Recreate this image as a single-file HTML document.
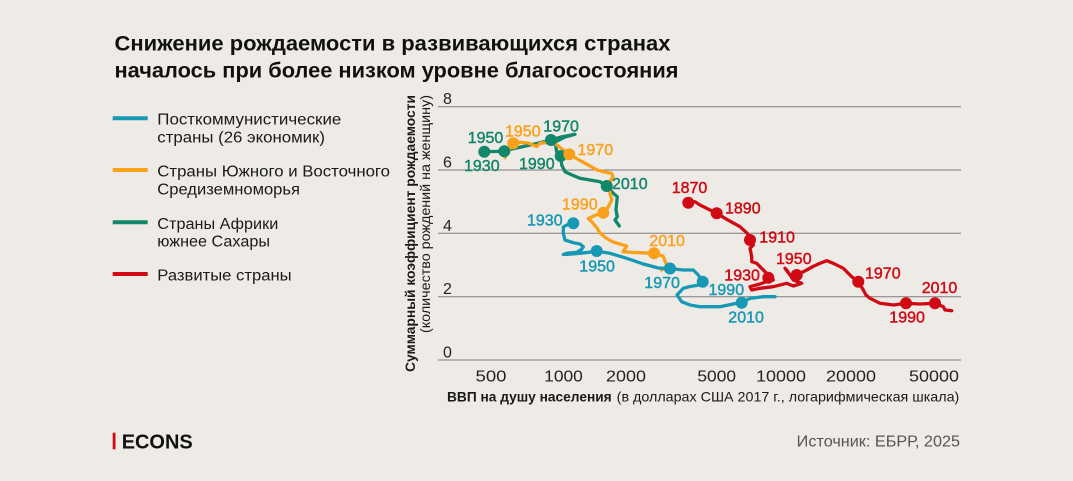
<!DOCTYPE html>
<html>
<head>
<meta charset="utf-8">
<style>
html,body{margin:0;padding:0;background:#eeebe6;}
svg{display:block;}
text{font-family:"Liberation Sans","Noto Sans CJK SC",sans-serif;}
</style>
</head>
<body>
<svg width="1073" height="481" viewBox="0 0 1073 481" xmlns="http://www.w3.org/2000/svg">
<rect x="0" y="0" width="1073" height="481" fill="#eeebe6"/>

<!-- Title -->
<text x="114.5" y="50.5" font-size="21.5" font-weight="bold" fill="#111" textLength="556" lengthAdjust="spacingAndGlyphs">Снижение рождаемости в развивающихся странах</text>
<text x="114.5" y="77.5" font-size="21.5" font-weight="bold" fill="#111" textLength="564" lengthAdjust="spacingAndGlyphs">началось при более низком уровне благосостояния</text>

<!-- Legend -->
<g font-size="15.5" fill="#1a1a1a">
<line x1="112.7" y1="118.3" x2="147.7" y2="118.3" stroke="#1798b5" stroke-width="4"/>
<text x="157.3" y="124.5" textLength="184" lengthAdjust="spacingAndGlyphs">Посткоммунистические</text>
<text x="157.3" y="142.7" textLength="167.7" lengthAdjust="spacingAndGlyphs">страны (26 экономик)</text>
<line x1="112.7" y1="170" x2="147.7" y2="170" stroke="#f9a11b" stroke-width="4"/>
<text x="157.3" y="176.7" textLength="232.7" lengthAdjust="spacingAndGlyphs">Страны Южного и Восточного</text>
<text x="157.3" y="194.5" textLength="142.7" lengthAdjust="spacingAndGlyphs">Средиземноморья</text>
<line x1="112.7" y1="222.3" x2="147.7" y2="222.3" stroke="#12876a" stroke-width="4"/>
<text x="157.3" y="229" textLength="121" lengthAdjust="spacingAndGlyphs">Страны Африки</text>
<text x="157.3" y="246.7" textLength="112.7" lengthAdjust="spacingAndGlyphs">южнее Сахары</text>
<line x1="112.7" y1="274" x2="147.7" y2="274" stroke="#cf0a14" stroke-width="4"/>
<text x="157.3" y="280.5" textLength="134.3" lengthAdjust="spacingAndGlyphs">Развитые страны</text>
</g>

<!-- Gridlines -->
<g stroke="#7d7d7d" stroke-width="1">
<line x1="438" y1="106.7" x2="961" y2="106.7"/>
<line x1="438" y1="170" x2="961" y2="170"/>
<line x1="438" y1="233.3" x2="961" y2="233.3"/>
<line x1="438" y1="296.7" x2="961" y2="296.7"/>
<line x1="438" y1="360" x2="961" y2="360"/>
</g>

<!-- Y tick labels -->
<g font-size="16" fill="#222">
<text x="443" y="104">8</text>
<text x="443" y="167.5">6</text>
<text x="443" y="230.8">4</text>
<text x="443" y="294">2</text>
<text x="443" y="357.3">0</text>
</g>

<!-- Y axis title -->
<text transform="translate(415,95) rotate(-90)" text-anchor="end" font-size="13.5" font-weight="bold" fill="#1a1a1a" textLength="277" lengthAdjust="spacingAndGlyphs">Суммарный коэффициент рождаемости</text>
<text transform="translate(430,95) rotate(-90)" text-anchor="end" font-size="13.5" fill="#1a1a1a" textLength="238" lengthAdjust="spacingAndGlyphs">(количество рождений на женщину)</text>

<!-- X tick labels -->
<g font-size="16" fill="#222" text-anchor="middle">
<text x="491" y="381.5" textLength="31" lengthAdjust="spacingAndGlyphs">500</text>
<text x="563.5" y="381.5" textLength="38.7" lengthAdjust="spacingAndGlyphs">1000</text>
<text x="626" y="381.5" textLength="40" lengthAdjust="spacingAndGlyphs">2000</text>
<text x="716.7" y="381.5" textLength="38.7" lengthAdjust="spacingAndGlyphs">5000</text>
<text x="781" y="381.5" textLength="50" lengthAdjust="spacingAndGlyphs">10000</text>
<text x="851" y="381.5" textLength="50" lengthAdjust="spacingAndGlyphs">20000</text>
<text x="934" y="381.5" textLength="50" lengthAdjust="spacingAndGlyphs">50000</text>
</g>

<!-- X axis title -->
<text x="447" y="401.5" font-size="14" font-weight="bold" fill="#1a1a1a" textLength="164.7" lengthAdjust="spacingAndGlyphs">ВВП на душу населения</text>
<text x="616.7" y="401.5" font-size="14" fill="#1a1a1a" textLength="342.6" lengthAdjust="spacingAndGlyphs">(в долларах США 2017 г., логарифмическая шкала)</text>

<!-- Series -->
<g fill="none" stroke-width="3.3" stroke-linejoin="round" stroke-linecap="round">
<path stroke="#12876a" d="M484.3,151.7 L494,151.5 L504.3,151.3 L512,149 L520,147.3 L530,145 L540,142.7 L551,140 L560,137.3 L575,134.3 L565,137 L555,142 L556.7,151.7 L560.7,156 L561.7,165 L565,171.7 L572,175 L580,178.3 L590,180 L600,181.7 L606.7,186 L613.3,193.3 L617.3,196.7 L616,210 L617.3,216.7 L615,220 L619.3,226"/>
<path stroke="#f9a11b" d="M505,157.5 L509,150 L513.3,143.3 L520,142.3 L528,143 L536.7,146.5 L540,143.3 L553,141.7 L557,145 L563.3,150 L569.3,154.3 L580,160.5 L590,166 L597,170 L605,172 L611.7,173.5 L613,176.7 L608.3,184 L610,193 L611.7,200 L608.3,207 L603.3,212.7 L596,215 L588.3,218.5 L592,222 L597,228 L600,233 L606,238 L613,242 L626.7,246 L623,251.7 L633,252.5 L640,252.7 L653,253.3 L663,256 L666,263.3 L667,268 L661.7,270"/>
<path stroke="#1798b5" d="M573.3,223.3 L566.7,225 L563.3,227 L563.3,233.3 L565,240 L573.3,242.7 L580,244 L583.3,246.7 L581.7,249.3 L576.7,252.3 L566.7,253.3 L563.3,254.5 L567,254.3 L580,253.3 L596.7,251.3 L610,253.3 L626.7,258.3 L643.3,264 L658.3,268 L670,268.5 L683.3,270 L693.3,270 L698.3,275 L702.7,281.7 L700,285 L690,286.5 L683.3,288.3 L677,295 L681.7,301.7 L690,305 L700,306.7 L720,306.7 L736.7,303.3 L741.7,302.7 L750,298.3 L763.3,296.7 L775,296.7"/>
<path stroke="#cf0a14" d="M688.3,202.7 L695,201.7 L700,205 L708,209 L716.7,213.3 L726.7,219.3 L740,226.7 L747.3,233.3 L750,240 L753.3,245 L750,248.3 L751.7,256.7 L751.7,261.7 L756.7,263.3 L760,266.7 L765,271.7 L770,276.7 L773.3,280 L768.3,281 L760,284 L750,286.7 L751.7,290 L760,288.3 L773.3,286.7 L786.7,283.3 L793.3,286 L801.7,283.3 L793.3,280 L786.7,270 L785,268.3 L790,275 L796.7,275 L806.7,270 L813,266.5 L820,263.3 L826.7,260.7 L833.3,263.3 L843.3,268.3 L851.7,276.7 L858.3,281.7 L863.3,290 L866,295 L870,298.3 L880,303.3 L893.3,305 L906,303.3 L920,304 L935,303.3 L943.3,306.7 L945,310 L951.7,310.7"/>
</g>

<!-- Dots -->
<g fill="#12876a">
<circle cx="484.3" cy="151.7" r="6"/><circle cx="504.3" cy="151.3" r="6"/><circle cx="551" cy="140" r="6"/><circle cx="560.7" cy="156" r="6"/><circle cx="606.7" cy="186" r="6"/>
</g>
<g fill="#f9a11b">
<circle cx="513.3" cy="143.3" r="6"/><circle cx="569.3" cy="154.3" r="6"/><circle cx="603.3" cy="212.7" r="6"/><circle cx="654" cy="253.3" r="6"/>
</g>
<g fill="#1798b5">
<circle cx="573.3" cy="223.3" r="6"/><circle cx="596.7" cy="251" r="6"/><circle cx="670" cy="268.5" r="6"/><circle cx="702.7" cy="281.7" r="6"/><circle cx="741.7" cy="302.7" r="6"/>
</g>
<g fill="#cf0a14">
<circle cx="688.3" cy="202.7" r="6"/><circle cx="716.7" cy="213.3" r="6"/><circle cx="750" cy="240" r="6"/><circle cx="768.3" cy="277.7" r="6"/><circle cx="796.7" cy="275" r="6"/><circle cx="858.3" cy="281.7" r="6"/><circle cx="906" cy="303.3" r="6"/><circle cx="935" cy="303.3" r="6"/>
</g>

<!-- Data labels -->
<g font-size="16" fill="#12876a" stroke="#12876a" stroke-width="0.45">
<text x="467.7" y="143">1950</text>
<text x="464" y="171">1930</text>
<text x="543.3" y="131.5">1970</text>
<text x="519" y="169">1990</text>
<text x="612" y="189">2010</text>
</g>
<g font-size="16" fill="#f9a11b" stroke="#f9a11b" stroke-width="0.45">
<text x="505" y="136.5">1950</text>
<text x="577.5" y="155">1970</text>
<text x="562" y="209.5">1990</text>
<text x="649.3" y="246">2010</text>
</g>
<g font-size="16" fill="#1798b5" stroke="#1798b5" stroke-width="0.45">
<text x="527" y="225.5">1930</text>
<text x="579.3" y="271.5">1950</text>
<text x="644.3" y="288">1970</text>
<text x="708.5" y="295">1990</text>
<text x="728.3" y="322.5">2010</text>
</g>
<g font-size="16" fill="#cf0a14" stroke="#cf0a14" stroke-width="0.45">
<text x="671.7" y="193">1870</text>
<text x="725" y="213.5">1890</text>
<text x="759.3" y="242.5">1910</text>
<text x="724.3" y="280.5">1930</text>
<text x="776" y="264">1950</text>
<text x="865" y="278.5">1970</text>
<text x="889.3" y="322.5">1990</text>
<text x="921.7" y="293">2010</text>
</g>

<!-- Footer -->
<rect x="112.7" y="432.7" width="2.8" height="16.6" fill="#cf0a14"/>
<text x="121.7" y="448.3" font-size="20" font-weight="bold" fill="#111" textLength="71" lengthAdjust="spacingAndGlyphs">ECONS</text>
<text x="796.7" y="446.7" font-size="16" fill="#555" textLength="163.3" lengthAdjust="spacingAndGlyphs">Источник: ЕБРР, 2025</text>
</svg>
</body>
</html>
